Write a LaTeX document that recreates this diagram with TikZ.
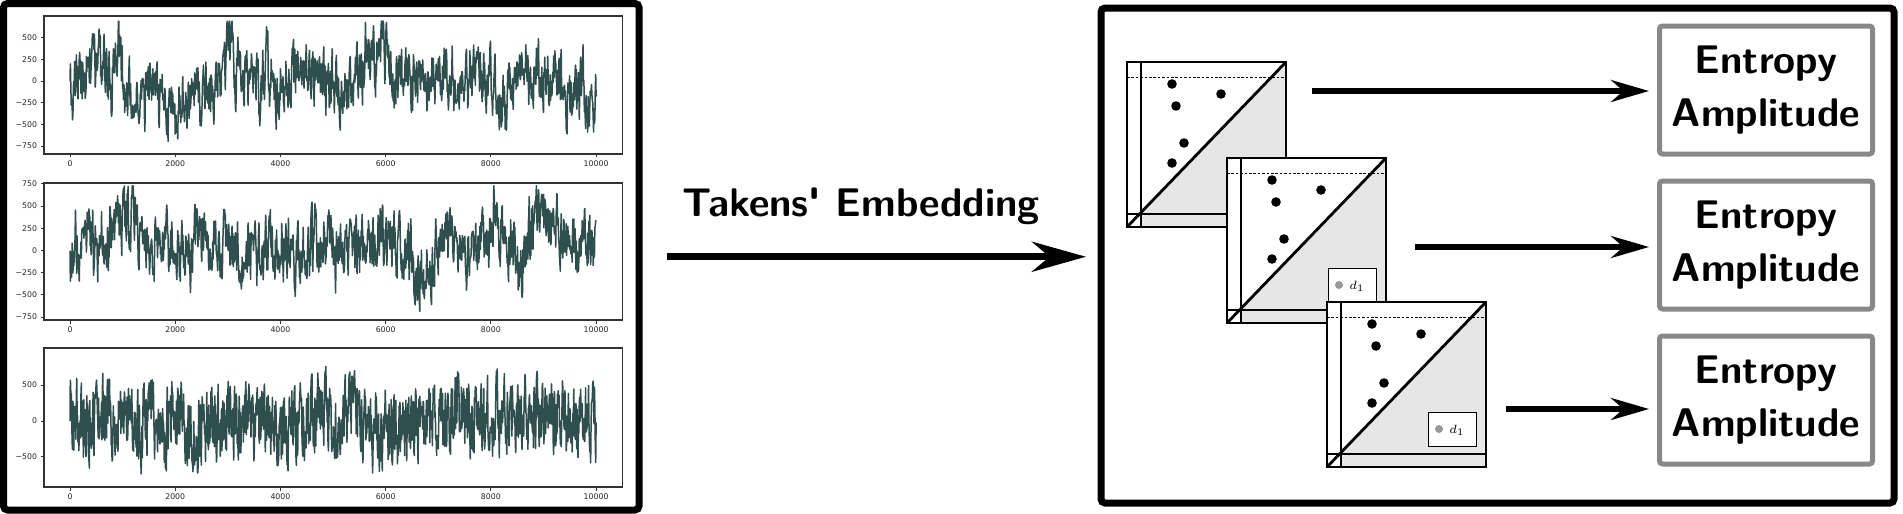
\documentclass[tikz,border=0pt]{standalone}
\usepackage{fontspec}
\usepackage{tikz}
\usetikzlibrary{positioning,arrows.meta,fit,calc}

\newfontfamily\tickfont{DejaVu Sans}
\definecolor{sigcol}{HTML}{2F4F4F}
\definecolor{boxgray}{HTML}{888888}
\definecolor{pdfill}{HTML}{E6E6E6}

% noisy series: seed, slow noise, fast noise, fast phi, low, high
\newcount\sigi
\newcommand\mksig[6]{%
  \pgfmathsetseed{#1}\def\sigs{0}\def\sigf{0}\def\sigpath{}\sigi=0
  \loop
    \pgfmathsetmacro\sigs{0.97*\sigs+#2*rand}%
    \pgfmathsetmacro\sigf{#4*\sigf+#3*rand}%
    \pgfmathsetmacro\sigv{max(#5,min(#6,\sigs+\sigf))}%
    \edef\sigpath{\sigpath--(\the\sigi,\sigv)}%
    \advance\sigi by 8
  \ifnum\sigi<10001 \repeat}

\tikzset{
  pdgm/.pic={
    \fill[white] (0,0) rectangle (159,165);
    \fill[pdfill] (14,165) -- (159,165) -- (159,0) -- (14,150.5) -- cycle;
    \draw[line width=0.6pt] (14,0) -- (14,165) (0,152) -- (159,152);
    \draw[line width=0.5pt, dash pattern=on 1.3pt off 0.9pt] (0,15) -- (159,15);
    \draw[line width=1.4pt] (0,165) -- (159,0);
    \foreach \px/\py in {45/22,94/32,49/44,57/81,45/101}
      \fill (\px,\py) circle[radius=4.8];
    \node[legbox] (-leg) at (125,127) {};
    \fill[black!40] (112,127) circle[radius=4];
    \node[font=\fontsize{6}{7}\selectfont, inner sep=0] (-lbl) at (130,128) {$d_1$};
    \draw[line width=1pt] (0,0) rectangle (159,165);
  }
}

\begin{document}
\begin{tikzpicture}[
    x=0.5pt, y=-0.5pt,
    panel/.style={draw, line width=3.5pt, rounded corners=2pt, inner sep=0},
    axbox/.style={draw=black!80, line width=0.6pt, inner sep=0},
    sig/.style={draw=sigcol, line width=0.75pt, line join=round},
    tk/.style={draw=black!80, line width=0.5pt},
    ylab/.style={left, inner sep=1.5pt, text=black!85, font=\tickfont\fontsize{3.9}{4.5}\selectfont},
    xlab/.style={below, inner sep=1.5pt, text=black!85, font=\tickfont\fontsize{3.9}{4.5}\selectfont},
    legbox/.style={draw, fill=white, line width=0.5pt, minimum width=24pt, minimum height=17pt, inner sep=0},
    ttl/.style={font=\sffamily\bfseries\fontsize{20}{24}\selectfont},
    ent/.style={draw=boxgray, line width=2.5pt, rounded corners=1.5pt, fill=white,
                minimum width=106.5pt, minimum height=64pt, align=center, inner sep=0,
                font=\sffamily\bfseries\fontsize{20}{26.5}\selectfont},
    arr/.style={-{Stealth[length=19pt, width=11pt]}, line width=2.6pt},
    bigarr/.style={-{Stealth[length=27pt, width=15pt]}, line width=3.6pt},
  ]
  \useasboundingbox (0,0) rectangle (1903,514);

  % Input series
  \node[panel, fit={(3.5,3.5) (639,510)}] (tsbox) {};

  \begin{scope}[shift={(70,81)}, x=0.0263pt, y=0.0434pt]
    \node[axbox, fit={(-494,749) (10494,-841)}] (ts1) {};
    \mksig{3}{72}{300}{0.5}{-780}{690}
    \draw[sig] (0,0) \sigpath;
    \foreach \v/\t [count=\k] in {500/500,250/250,0/0,-250/−250,-500/−500,-750/−750}
      \draw[tk] (-494,\v) -- ++(-1.75pt,0pt) node[ylab] (ya\k) {\t};
    \foreach \x [count=\k] in {0,2000,...,10000}
      \draw[tk] (\x,-841) -- ++(0pt,-1.75pt) node[xlab] (xa\k) {\x};
  \end{scope}

  \begin{scope}[shift={(70,250.5)}, x=0.0263pt, y=0.04435pt]
    \node[axbox, fit={(-494,761) (10494,-784)}] (ts2) {};
    \mksig{17}{65}{295}{0.5}{-730}{730}
    \draw[sig] (0,0) \sigpath;
    \foreach \v/\t [count=\k] in {750/750,500/500,250/250,0/0,-250/−250,-500/−500,-750/−750}
      \draw[tk] (-494,\v) -- ++(-1.75pt,0pt) node[ylab] (yb\k) {\t};
    \foreach \x [count=\k] in {0,2000,...,10000}
      \draw[tk] (\x,-784) -- ++(0pt,-1.75pt) node[xlab] (xb\k) {\x};
  \end{scope}

  \begin{scope}[shift={(70,421)}, x=0.0263pt, y=0.036pt]
    \node[axbox, fit={(-494,1014) (10494,-917)}] (ts3) {};
    \mksig{29}{45}{480}{0.35}{-850}{930}
    \draw[sig] (0,0) \sigpath;
    \foreach \v/\t [count=\k] in {500/500,0/0,-500/−500}
      \draw[tk] (-494,\v) -- ++(-1.75pt,0pt) node[ylab] (yc\k) {\t};
    \foreach \x [count=\k] in {0,2000,...,10000}
      \draw[tk] (\x,-917) -- ++(0pt,-1.75pt) node[xlab] (xc\k) {\x};
  \end{scope}

  % Diagrams
  \node[panel, fit={(1101,8) (1894,503)}] (pdbox) {};

  \draw[bigarr, shorten <=12pt, shorten >=5.75pt] (tsbox.east) -- (tsbox.east -| pdbox.west);
  \node[ttl] (emb) at (861,206) {Takens\textquotesingle\ Embedding};

  \pic (pd1) at (1127,62) {pdgm};
  \pic (pd2) at (1227,158) {pdgm};
  \pic (pd3) at (1327,302) {pdgm};

  % Outputs
  \node[ent] (ent1) at (1766,90) {Entropy\\Amplitude};
  \node[ent, below=11pt of ent1] (ent2) {Entropy\\Amplitude};
  \node[ent, below=11pt of ent2] (ent3) {Entropy\\Amplitude};

  \coordinate (a1) at (1312,91);
  \coordinate (a2) at (1415,247);
  \coordinate (a3) at (1506,409);
  \foreach \k in {1,2,3}
    \draw[arr, shorten >=4pt] (a\k) -- (a\k -| ent\k.west);
\end{tikzpicture}
\end{document}
